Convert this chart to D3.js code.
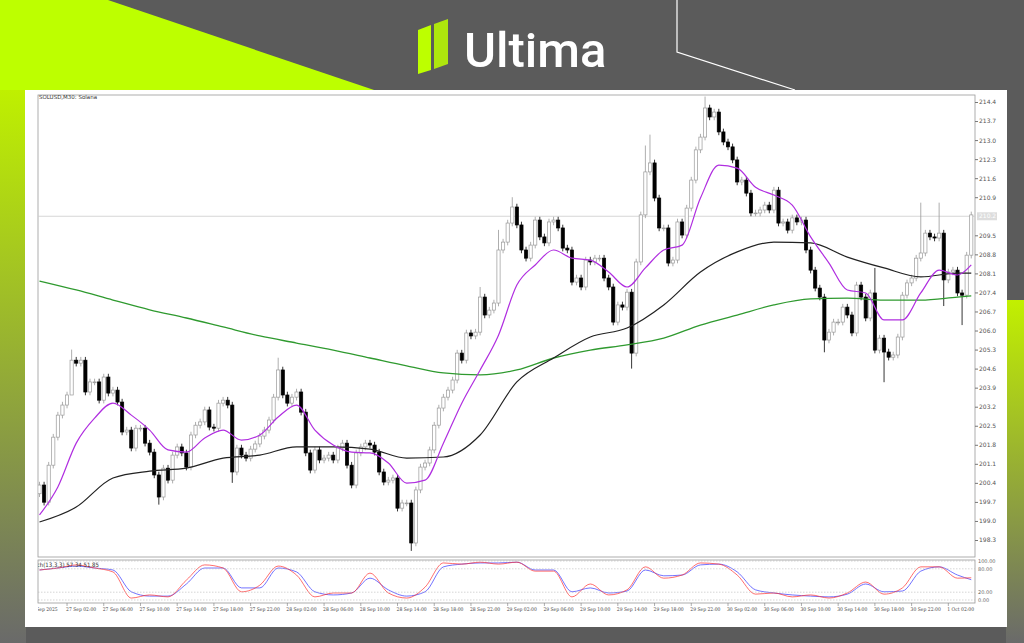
<!DOCTYPE html>
<html><head><meta charset="utf-8">
<script src="https://cdn.jsdelivr.net/npm/d3@7"></script>
<style>body{margin:0;background:#5b5b5b;overflow:hidden}svg{display:block}</style>
</head><body>
<script>
const closes=[200.32,199.69,201.05,202.08,202.89,203.26,203.63,204.91,204.80,204.91,203.74,204.11,204.11,203.44,204.29,203.70,203.81,203.37,202.27,202.34,201.68,202.41,202.41,201.86,201.53,200.69,199.88,200.94,200.50,201.42,201.72,201.50,200.98,202.16,202.52,202.64,203.08,202.45,202.41,203.33,203.44,203.26,200.80,201.68,201.42,201.31,201.64,201.83,202.12,202.34,202.71,
203.55,204.55,203.63,203.33,203.55,203.74,203.00,201.50,200.87,201.61,201.24,201.31,201.42,201.24,201.68,201.86,201.05,200.32,201.50,201.72,201.86,201.79,201.53,200.80,200.43,200.50,200.58,199.47,199.66,199.66,198.19,200.14,200.98,201.13,201.61,202.52,203.15,203.55,203.81,204.18,205.17,204.91,205.91,205.80,205.94,207.23,206.57,206.75,207.01,
208.96,209.25,209.95,210.54,209.88,208.96,208.66,209.14,210.06,209.44,209.22,209.99,210.06,209.77,209.03,208.96,207.78,207.93,207.60,208.59,208.52,208.66,208.66,207.93,207.60,206.31,206.94,206.86,207.41,205.17,208.52,210.25,211.83,212.16,210.87,209.77,209.77,208.48,208.59,209.99,209.51,210.50,211.53,212.64,213.11,214.18,213.85,214.03,213.30,212.93,212.75,
212.27,211.46,211.53,211.05,210.32,210.32,210.43,210.61,210.43,211.16,209.95,209.99,209.69,210.14,209.99,210.06,208.96,208.22,207.56,207.23,205.65,205.94,206.31,206.31,206.86,206.57,205.91,207.67,207.23,206.46,207.38,205.28,205.72,205.21,205.02,205.10,205.76,207.30,207.75,207.93,208.66,208.85,209.58,209.44,209.40,209.58,207.86,208.15,208.22,207.38,207.30,208.77,210.25];
const firstOpen=200.0;
// notable wick extremes: [index, high, low]
const wickExtremes=[[7,205.3,204.4],[26,null,199.6],[42,null,200.4],[52,205.0,null],[81,null,197.9],[96,207.6,null],[100,209.7,null],[103,210.9,null],[129,null,204.6],[133,213.2,null],[132,212.8,null],[145,214.6,null],[171,null,205.2],[182,208.3,null],[184,null,204.1],[192,210.7,null],[196,210.7,null],[201,null,206.2],[197,null,206.9]];
const maFast=[199.22,200.25,201.86,202.78,203.33,202.89,202.34,201.61,201.53,202.05,202.34,201.97,202.16,202.82,203.26,202.34,201.79,201.53,201.50,201.13,200.39,200.50,201.86,203.33,204.55,205.83,207.67,208.41,208.96,208.66,208.59,208.15,207.60,208.30,208.96,209.14,210.87,212.08,211.97,211.27,210.98,210.61,209.44,208.48,207.49,207.38,206.39,206.39,207.38,208.22,208.04,208.41];
const maMid=[198.96,199.51,200.58,200.83,200.94,201.31,201.42,201.72,201.72,201.64,201.31,201.35,202.16,204.11,204.99,205.76,206.09,206.94,208.15,208.89,209.25,209.22,208.70,208.30,207.97,208.11,208.11];
const maSlow=[207.82,207.49,207.12,206.76,206.46,206.13,205.80,205.54,205.28,204.99,204.70,204.44,204.37,204.55,204.99,205.28,205.47,205.72,206.20,206.57,206.94,207.16,207.19,207.12,207.12,207.23,207.27];
const stochK=[77,82,90,82,72,5,13,8,51,90,82,21,38,87,64,8,18,18,69,18,5,33,95,92,97,92,97,74,74,8,41,13,26,85,56,64,95,92,64,15,18,8,13,5,18,46,15,31,85,85,56,57];
const stochD=[77,82,87,82,77,21,10,10,41,82,82,31,31,82,72,21,13,18,56,26,10,21,85,92,95,95,97,77,77,21,31,18,23,77,62,64,90,92,72,26,18,13,10,8,15,41,21,23,74,85,64,52];
const priceTicks=[214.4,213.7,213.0,212.3,211.6,210.9,209.5,208.8,208.1,207.4,206.7,206.0,205.3,204.6,203.9,203.2,202.5,201.8,201.1,200.4,199.7,199.0,198.3];
const currentPrice=210.2;
const startTime=new Date(2025,8,26,23,0);
const title="SOLUSD,M30:  Solana";
const stochLabel="Stoch(13,3,3) 57.34 51.85";
const firstDateLabel="26 Sep 2025";

const W=1024,H=643;
const svg=d3.select("body").append("svg").attr("width",W).attr("height",H);
const defs=svg.append("defs");
const g1=defs.append("linearGradient").attr("id","lg").attr("x1",0).attr("x2",0).attr("y1",0).attr("y2",1);
g1.append("stop").attr("offset","0").attr("stop-color","#bff000");g1.append("stop").attr("offset","1").attr("stop-color","#6a6a6a");
const g2=defs.append("linearGradient").attr("id","rg").attr("x1",0).attr("x2",0).attr("y1",0).attr("y2",1);
g2.append("stop").attr("offset","0").attr("stop-color","#c2f000");g2.append("stop").attr("offset","1").attr("stop-color","#6a6a6a");
svg.append("rect").attr("width",W).attr("height",H).attr("fill","#5b5b5b");
svg.append("polygon").attr("points","0,0 108,0 380,92 0,92").attr("fill","#bdff00");
svg.append("rect").attr("x",0).attr("y",90).attr("width",26).attr("height",553).attr("fill","url(#lg)");
svg.append("rect").attr("x",1006).attr("y",300).attr("width",18).attr("height",343).attr("fill","url(#rg)");
svg.append("polyline").attr("points","677,0 677,52 795,90").attr("fill","none").attr("stroke","#fff").attr("stroke-width",1.2);
// logo
svg.append("polygon").attr("points","418,30 431,25 431,70 418,74").attr("fill","#bdff00");
svg.append("polygon").attr("points","434,24 448,19 448,64 434,69").attr("fill","#bdff00").attr("opacity",0.85);
svg.append("text").attr("x",464).attr("y",67).attr("font-family","Roboto").attr("font-weight",500).attr("font-size",49).attr("fill","#fff").text("Ultima");
// panel
svg.append("rect").attr("x",25).attr("y",90).attr("width",982).attr("height",537).attr("fill","#fff");
const L=38,R=975,T=95,B=557,ST=560,SB=603;
svg.append("rect").attr("x",L).attr("y",T).attr("width",R-L).attr("height",B-T).attr("fill","none").attr("stroke","#999").attr("stroke-width",0.8);
svg.append("rect").attr("x",L).attr("y",ST).attr("width",R-L).attr("height",SB-ST).attr("fill","none").attr("stroke","#999").attr("stroke-width",0.8);
defs.append("clipPath").attr("id","cp").append("rect").attr("x",L).attr("y",T).attr("width",R-L).attr("height",SB-T);

const x=d3.scaleLinear().domain([0,203]).range([39.5,39.5+4.59*203]);
const y=d3.scaleLinear().domain([198.3,214.4]).range([540,102]);
const ys=d3.scaleLinear().domain([0,100]).range([600,561]);

const ax=svg.append("g").attr("transform",`translate(${R},0)`).call(d3.axisRight(y).tickValues(priceTicks).tickSize(3).tickFormat(d3.format(".1f")));
ax.select(".domain").remove();
ax.selectAll("text").attr("font-size",6).attr("fill","#555").attr("font-family","DejaVu Sans").attr("dx",-2);
ax.selectAll("line").attr("stroke","#777");
svg.append("line").attr("x1",L).attr("x2",R).attr("y1",y(currentPrice)).attr("y2",y(currentPrice)).attr("stroke","#ccc").attr("stroke-width",0.8);
svg.append("rect").attr("x",R+2).attr("y",y(currentPrice)-4).attr("width",20).attr("height",8).attr("fill","#ddd");
svg.append("text").attr("x",R+4).attr("y",y(currentPrice)+2).attr("font-size",6).attr("fill","#fff").attr("font-family","DejaVu Sans").text(currentPrice.toFixed(1));

const plot=svg.append("g").attr("clip-path","url(#cp)");
const ext={};wickExtremes.forEach(d=>ext[d[0]]=d);
const candles=closes.map((c,i)=>{const o=i?closes[i-1]:firstOpen;const e=ext[i];
 let hi=Math.max(o,c)+0.12,lo=Math.min(o,c)-0.12; if(e){if(e[1]!=null)hi=e[1];if(e[2]!=null)lo=e[2];}
 return {i,o,c,hi,lo};});
const cg=plot.append("g");
cg.selectAll("line").data(candles).join("line").attr("x1",d=>x(d.i)).attr("x2",d=>x(d.i)).attr("y1",d=>y(d.hi)).attr("y2",d=>y(d.lo)).attr("stroke",d=>d.c>=d.o?"#999":"#000").attr("stroke-width",0.8);
cg.selectAll("rect").data(candles).join("rect").attr("x",d=>x(d.i)-1.6).attr("width",3.2)
 .attr("y",d=>y(Math.max(d.o,d.c))).attr("height",d=>Math.max(0.8,Math.abs(y(d.o)-y(d.c))))
 .attr("fill",d=>d.c>=d.o?"#fff":"#000").attr("stroke",d=>d.c>=d.o?"#999":"#000").attr("stroke-width",0.7);
function idx(n,step){return d3.range(n).map(k=>Math.min(k*step,203));}
const lineFn=(xs,vals)=>d3.line().curve(d3.curveMonotoneX).x((d,k)=>x(xs[k])).y(d=>y(d))(vals);
const fI=idx(maFast.length,4), mI=idx(maMid.length,8), sI=idx(maSlow.length,8);
plot.append("path").attr("d",lineFn(sI,maSlow)).attr("fill","none").attr("stroke","#2f9a2f").attr("stroke-width",1.3);
plot.append("path").attr("d",lineFn(mI,maMid)).attr("fill","none").attr("stroke","#222").attr("stroke-width",1.2);
plot.append("path").attr("d",lineFn(fI,maFast)).attr("fill","none").attr("stroke","#b02ee0").attr("stroke-width",1.2);
[0,20,80,100].forEach(v=>svg.append("line").attr("x1",L).attr("x2",R).attr("y1",ys(v)).attr("y2",ys(v)).attr("stroke","#bbb").attr("stroke-width",0.6).attr("stroke-dasharray","1.5,1.5"));
const kI=idx(stochK.length,4);
const sl=(vals)=>d3.line().curve(d3.curveMonotoneX).x((d,k)=>x(kI[k])).y(d=>ys(d))(vals);
plot.append("path").attr("d",sl(stochD)).attr("fill","none").attr("stroke","#5050ff").attr("stroke-width",1).attr("opacity",0.8);
plot.append("path").attr("d",sl(stochK)).attr("fill","none").attr("stroke","#ff3030").attr("stroke-width",1).attr("opacity",0.7);
plot.append("text").attr("x",L-10).attr("y",ST+7).attr("font-size",6).attr("font-family","DejaVu Sans Condensed").attr("fill","#333").text(stochLabel);
[[100,"100.00"],[80,"80.00"],[20,"20.00"],[0,"0.00"]].forEach(([v,t])=>svg.append("text").attr("x",R+3).attr("y",ys(v)+2).attr("font-size",5).attr("font-family","DejaVu Sans").attr("fill","#666").text(t));
svg.append("text").attr("x",L+1).attr("y",T+4).attr("font-size",5.5).attr("font-family","DejaVu Sans").attr("fill","#333").text(title);
const fmt=d3.timeFormat("%-d %b %H:%M");
const tIdx=d3.range(6,204,8);
defs.append("clipPath").attr("id","cp2").append("rect").attr("x",L).attr("y",SB).attr("width",R-L+20).attr("height",20);
const tg=svg.append("g").attr("clip-path","url(#cp2)");
const tstyle=s=>s.attr("font-size",5).attr("font-family","DejaVu Serif Condensed").attr("fill","#444");
tIdx.forEach(i=>{const t=new Date(startTime.getTime()+i*1800000);
 svg.append("line").attr("x1",x(i)).attr("x2",x(i)).attr("y1",SB).attr("y2",SB+3).attr("stroke","#777").attr("stroke-width",0.6);
 tg.append("text").attr("x",x(i)-1).attr("y",SB+8).call(tstyle).text(fmt(t));});
tg.append("text").attr("x",L-9).attr("y",SB+8).call(tstyle).text(firstDateLabel);
</script>
</body></html>
